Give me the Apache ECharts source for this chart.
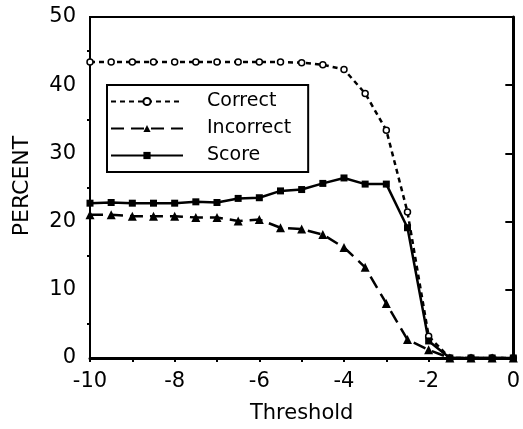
<!DOCTYPE html>
<html>
<head>
<meta charset="utf-8">
<script src="https://cdn.jsdelivr.net/npm/echarts@6/dist/echarts.min.js"></script>
<style>
  html, body { margin: 0; padding: 0; background: #fff; }
  #chart { width: 523px; height: 429px; }
</style>
</head>
<body>
<div id="chart"></div>
<script>
// values, one per threshold step
const thresholds = [-10, -9.5, -9, -8.5, -8, -7.5, -7, -6.5, -6, -5.5, -5, -4.5, -4, -3.5, -3, -2.5, -2, -1.5, -1, -0.5, 0]
const correct = [43.4, 43.4, 43.4, 43.4, 43.4, 43.4, 43.4, 43.4, 43.4, 43.4, 43.3, 43.0, 42.3, 38.8, 33.4, 21.4, 3.2, 0, 0, 0, 0]
const incorrect = [21.0, 21.0, 20.8, 20.8, 20.8, 20.6, 20.6, 20.1, 20.3, 19.1, 18.9, 18.1, 16.2, 13.3, 8.0, 2.7, 1.2, 0, 0, 0, 0]
const score = [22.7, 22.8, 22.7, 22.7, 22.7, 22.9, 22.8, 23.4, 23.5, 24.5, 24.7, 25.6, 26.4, 25.5, 25.5, 19.1, 2.5, 0, 0, 0, 0]
const xTicks = [-10, -8, -6, -4, -2, 0]
const yTicks = [0, 10, 20, 30, 40, 50]
const yMinorTicks = [5, 15, 25, 35, 45]

const font = 'DejaVu Sans'
const pairs = arr => thresholds.map((t, i) => [t, arr[i]])

const chart = echarts.init(document.getElementById('chart'), null, { renderer: 'canvas' })

const option = {
  backgroundColor: '#fff',
  animation: false,
  grid: {
    left: 90,
    right: 8,
    top: 17,
    bottom: 67,
    show: true,
    borderColor: '#000',
    borderWidth: 2,
  },
  legend: {
    left: 107,
    top: 85,
    orient: 'vertical',
    data: ['Correct', 'Incorrect', 'Score'],
    backgroundColor: '#fff',
    borderColor: '#000',
    borderWidth: 2,
    borderRadius: 0,
    padding: [7, 17, 7, 3],
    itemWidth: 72,
    itemHeight: 9,
    itemGap: 8,
    textStyle: {
      fontFamily: font,
      fontSize: 19,
      color: '#000',
      lineHeight: 19,
      padding: [0, 0, 0, 19],
    },
  },
  xAxis: {
    type: 'value',
    min: -10,
    max: 0,
    interval: 1,
    axisLine: { lineStyle: { color: '#000', width: 3 } },
    axisTick: { inside: false, length: 4, lineStyle: { color: '#000', width: 2 } },
    splitLine: { show: false },
    axisLabel: {
      margin: 13,
      fontFamily: font,
      fontSize: 21,
      color: '#000',
      customValues: xTicks,
    },
    name: 'Threshold',
    nameLocation: 'middle',
    nameGap: 45,
    nameTextStyle: { fontFamily: font, fontSize: 21, color: '#000' },
  },
  yAxis: [
    {
      type: 'value',
      min: 0,
      max: 50,
      interval: 10,
      axisLine: { lineStyle: { color: '#000', width: 3 } },
      axisTick: { inside: false, length: 8, lineStyle: { color: '#000', width: 2 } },
      splitLine: { show: false },
      axisLabel: {
        margin: 14,
        fontFamily: font,
        fontSize: 21,
        color: '#000',
        customValues: yTicks,
      },
    },
    {
      // short marks halfway between the labelled ticks
      type: 'value',
      position: 'left',
      offset: 0,
      min: 0,
      max: 50,
      interval: 5,
      axisLine: { show: false },
      axisTick: { inside: false, length: 3, customValues: yMinorTicks, lineStyle: { color: '#000', width: 2 } },
      axisLabel: { show: false },
      splitLine: { show: false },
    },
  ],
  graphic: [
    {
      type: 'text',
      x: 22,
      y: 186,
      rotation: Math.PI / 2,
      style: {
        text: 'PERCENT',
        font: '22px "DejaVu Sans"',
        fill: '#000',
        align: 'center',
        verticalAlign: 'middle',
      },
    },
  ],
  series: [
    {
      name: 'Correct',
      type: 'line',
      data: pairs(correct),
      clip: false,
      symbol: 'circle',
      symbolSize: 6,
      lineStyle: { color: '#000', width: 2.5, type: [5, 4] },
      itemStyle: { color: '#fff', borderColor: '#000', borderWidth: 1.5 },
    },
    {
      name: 'Incorrect',
      type: 'line',
      data: pairs(incorrect),
      clip: false,
      symbol: 'triangle',
      symbolSize: 9,
      lineStyle: { color: '#000', width: 2.5, type: [13, 7] },
      itemStyle: { color: '#000' },
    },
    {
      name: 'Score',
      type: 'line',
      data: pairs(score),
      clip: false,
      symbol: 'rect',
      symbolSize: 7,
      lineStyle: { color: '#000', width: 2.5 },
      itemStyle: { color: '#000' },
    },
  ],
}

chart.setOption(option)
</script>
</body>
</html>
